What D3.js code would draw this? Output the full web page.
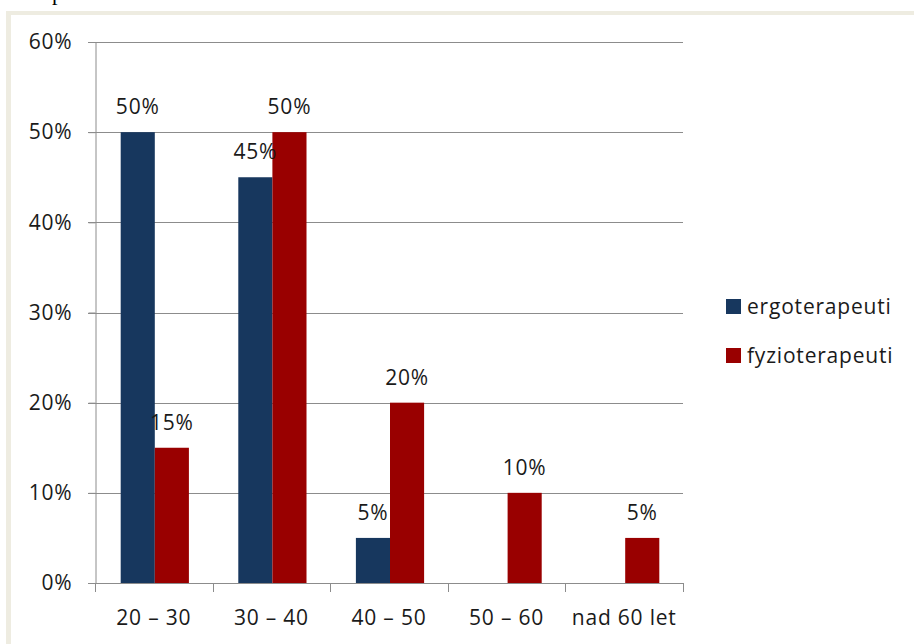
<!DOCTYPE html>
<html>
<head>
<meta charset="utf-8">
<script src="https://cdn.jsdelivr.net/npm/d3@7/dist/d3.min.js"></script>
<style>
  html, body { margin: 0; padding: 0; background: #fff; }
  svg { display: block; }
  text { font-family: "Open Sans", Lato, sans-serif; fill: #1a1a1a; letter-spacing: 0.8px; }
</style>
</head>
<body>
<svg id="chart" width="914" height="644"></svg>
<script>
// Age groups and share of respondents per profession
const categories = ["20 – 30", "30 – 40", "40 – 50", "50 – 60", "nad 60 let"];
const seriesNames = ["ergoterapeuti", "fyzioterapeuti"];
const ergoterapeuti = [50, 45, 5, 0, 0];
const fyzioterapeuti = [15, 50, 20, 10, 5];
const yTicks = [0, 10, 20, 30, 40, 50, 60];

const colors = { ergoterapeuti: "#17375e", fyzioterapeuti: "#990000" };
const seriesValues = { ergoterapeuti, fyzioterapeuti };
const fontSize = "21px";

const svg = d3.select("#chart");

// Outer frame strip (top and left)
svg.append("rect").attr("x", 6).attr("y", 11).attr("width", 908).attr("height", 4).attr("fill", "#eeece1");
svg.append("rect").attr("x", 6).attr("y", 11).attr("width", 5).attr("height", 633).attr("fill", "#eeece1");

// Text line cut at the top edge
svg.append("text").attr("x", 52).attr("y", 0)
  .style("font-family", "'Liberation Serif', serif").style("font-size", "22px").style("fill", "#000")
  .style("letter-spacing", "0px")
  .text("p");

const plot = { left: 95, right: 683, top: 42, bottom: 583 };

const x0 = d3.scaleBand().domain(categories).range([plot.left, plot.right]).padding(0);
const groupW = x0.bandwidth() * 0.58;
const x1 = d3.scaleBand().domain(seriesNames)
  .range([(x0.bandwidth() - groupW) / 2 + 1, (x0.bandwidth() + groupW) / 2 + 1]).padding(0);
const y = d3.scaleLinear().domain([0, 60]).range([plot.bottom, plot.top]);

// Horizontal gridlines
svg.append("g").selectAll("line").data(yTicks).join("line")
  .attr("x1", plot.left - 7).attr("x2", plot.right)
  .attr("y1", d => Math.round(y(d)) + 0.5).attr("y2", d => Math.round(y(d)) + 0.5)
  .attr("stroke", "#8c8c8c").attr("stroke-width", 1);

// Y axis
const yAxis = svg.append("g").attr("transform", `translate(${plot.left + 0.5},0)`)
  .call(d3.axisLeft(y).tickValues(yTicks).tickFormat(d => d + "%").tickSize(7).tickPadding(16));
yAxis.select(".domain").attr("stroke", "#8c8c8c");
yAxis.selectAll(".tick line").attr("stroke", "#8c8c8c");
yAxis.selectAll("text").style("font-size", fontSize).style("font-family", "'Open Sans', sans-serif").attr("fill", "#1a1a1a");

// X axis: tick marks at category boundaries
const bounds = categories.map(c => x0(c)).concat([plot.right]);
svg.append("g").selectAll("line").data(bounds).join("line")
  .attr("x1", d => Math.round(d) + 0.5).attr("x2", d => Math.round(d) + 0.5)
  .attr("y1", plot.bottom).attr("y2", plot.bottom + 9)
  .attr("stroke", "#8c8c8c");
svg.append("line").attr("x1", plot.left).attr("x2", plot.right)
  .attr("y1", plot.bottom + 0.5).attr("y2", plot.bottom + 0.5).attr("stroke", "#8c8c8c");
svg.append("g").selectAll("text").data(categories).join("text")
  .attr("x", d => x0(d) + x0.bandwidth() / 2)
  .attr("y", 625)
  .attr("text-anchor", "middle")
  .style("font-size", fontSize)
  .text(d => d);

// Bars
const rows = [];
categories.forEach((c, i) => {
  seriesNames.forEach(s => rows.push({ cat: c, series: s, value: seriesValues[s][i] }));
});

svg.append("g").selectAll("rect").data(rows.filter(d => d.value > 0)).join("rect")
  .attr("x", d => x0(d.cat) + x1(d.series))
  .attr("y", d => y(d.value))
  .attr("width", x1.bandwidth())
  .attr("height", d => y(0) - y(d.value))
  .attr("fill", d => colors[d.series]);

// Value labels
svg.append("g").selectAll("text").data(rows.filter(d => d.value > 0)).join("text")
  .attr("x", d => x0(d.cat) + x1(d.series) + x1.bandwidth() / 2)
  .attr("y", d => y(d.value) - 18)
  .attr("text-anchor", "middle")
  .style("font-size", fontSize)
  .text(d => d.value + "%");

// Legend
const legend = svg.append("g").selectAll("g").data(seriesNames).join("g")
  .attr("transform", (d, i) => `translate(726, ${299 + i * 49})`);
legend.append("rect").attr("width", 15).attr("height", 15).attr("fill", d => colors[d]);
legend.append("text").attr("x", 21).attr("y", 15).style("font-size", fontSize).text(d => d);
</script>
</body>
</html>
